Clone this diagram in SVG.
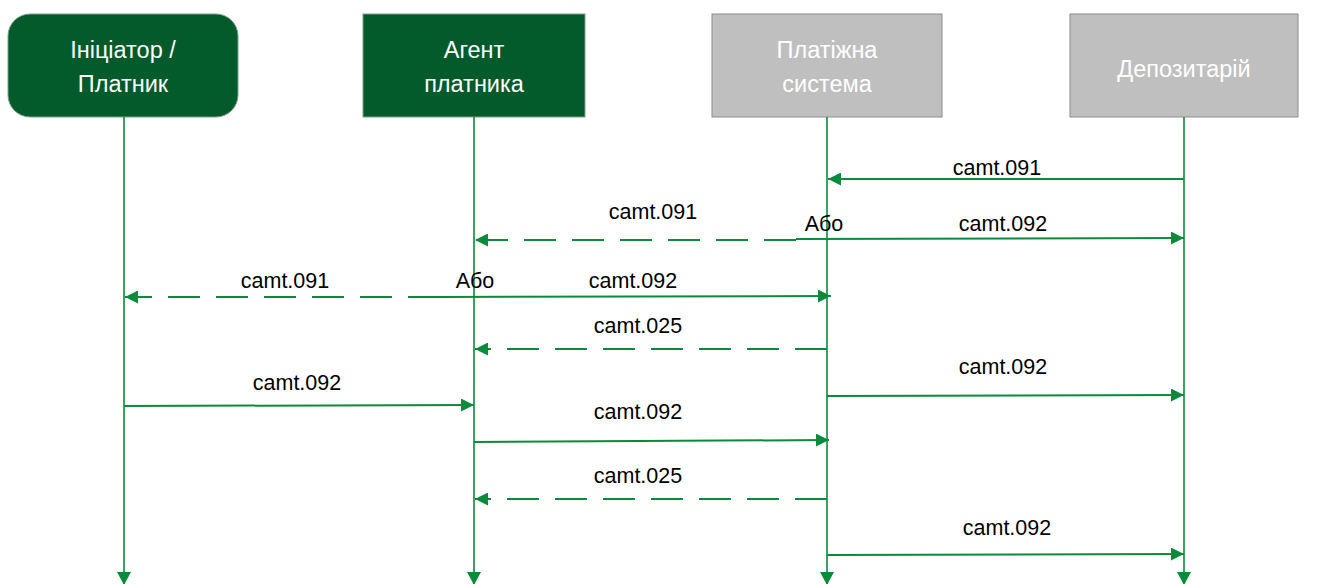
<svg xmlns="http://www.w3.org/2000/svg" width="1333" height="584" viewBox="0 0 1333 584">
<style>
.nt{font-family:"Liberation Sans",Arial,sans-serif;font-size:23.5px;fill:#fff;text-anchor:middle}
.lb{font-family:"Liberation Sans",Arial,sans-serif;font-size:21.5px;fill:#000;text-anchor:middle}
.ll{stroke:#0B8A3B;stroke-width:1.6;fill:none}
.msg{stroke:#0B8A3B;stroke-width:2;fill:none}
.dash{stroke-dasharray:32 16}
.green{fill:#035A2A;stroke:#7f9f8a;stroke-width:1}
.gray{fill:#BFBFBF;stroke:#8C8C8C;stroke-width:1}
</style>
<defs>
<marker id="ah" viewBox="0 0 13 13" refX="13" refY="6.5" markerWidth="13" markerHeight="13" markerUnits="userSpaceOnUse" orient="auto">
<path d="M0,0 L13,6.5 L0,13 Z" fill="#0B8A3B"/>
</marker>
<marker id="lh" viewBox="0 0 13 14" refX="13" refY="7" markerWidth="13" markerHeight="14" markerUnits="userSpaceOnUse" orient="auto">
<path d="M0,0 L13,7 L0,14 Z" fill="#0B8A3B"/>
</marker>
</defs>
<g id="node-initiator">
<rect x="8" y="14" width="230" height="103" rx="22" class="green"/>
<text class="nt" x="123" y="58">Ініціатор /</text>
<text class="nt" x="123" y="92">Платник</text>
</g>
<g id="node-agent">
<rect x="363" y="14" width="222" height="103" class="green"/>
<text class="nt" x="474" y="58">Агент</text>
<text class="nt" x="474" y="92">платника</text>
</g>
<g id="node-payment-system">
<rect x="712" y="14" width="230" height="103" class="gray"/>
<text class="nt" x="827" y="58">Платіжна</text>
<text class="nt" x="827" y="92">система</text>
</g>
<g id="node-depository">
<rect x="1070" y="14" width="228" height="103" class="gray"/>
<text class="nt" x="1184" y="77">Депозитарій</text>
</g>
<g id="connectors">
<line class="ll" x1="124" y1="117" x2="124" y2="585" marker-end="url(#lh)"/>
<line class="ll" x1="474" y1="117" x2="474" y2="585" marker-end="url(#lh)"/>
<line class="ll" x1="827" y1="117" x2="827" y2="585" marker-end="url(#lh)"/>
<line class="ll" x1="1184" y1="117" x2="1184" y2="585" marker-end="url(#lh)"/>

<line class="msg" x1="1184" y1="179" x2="828" y2="179" marker-end="url(#ah)"/>
<line class="msg dash" x1="796" y1="240" x2="475" y2="240" marker-end="url(#ah)"/>
<line class="msg" x1="796" y1="239" x2="1184" y2="238" marker-end="url(#ah)"/>
<line class="msg dash" x1="440" y1="297" x2="125" y2="297" marker-end="url(#ah)"/>
<line class="msg" x1="440" y1="297" x2="831" y2="296" marker-end="url(#ah)"/>
<line class="msg dash" x1="827" y1="349" x2="475" y2="349" marker-end="url(#ah)"/>
<line class="msg" x1="827" y1="396" x2="1184" y2="395" marker-end="url(#ah)"/>
<line class="msg" x1="124" y1="406" x2="474" y2="405" marker-end="url(#ah)"/>
<line class="msg" x1="474" y1="442" x2="829" y2="440" marker-end="url(#ah)"/>
<line class="msg dash" x1="827" y1="499" x2="475" y2="499" marker-end="url(#ah)"/>
<line class="msg" x1="827" y1="555" x2="1184" y2="554" marker-end="url(#ah)"/>
</g>
<g id="labels">
<text class="lb" x="997" y="175">camt.091</text>
<text class="lb" x="653" y="219">camt.091</text>
<text class="lb" x="824" y="231">Або</text>
<text class="lb" x="1003" y="231">camt.092</text>
<text class="lb" x="285" y="288">camt.091</text>
<text class="lb" x="475" y="288">Або</text>
<text class="lb" x="633" y="288">camt.092</text>
<text class="lb" x="638" y="333">camt.025</text>
<text class="lb" x="1003" y="374">camt.092</text>
<text class="lb" x="297" y="390">camt.092</text>
<text class="lb" x="638" y="419">camt.092</text>
<text class="lb" x="638" y="483">camt.025</text>
<text class="lb" x="1007" y="535">camt.092</text>
</g>
</svg>
